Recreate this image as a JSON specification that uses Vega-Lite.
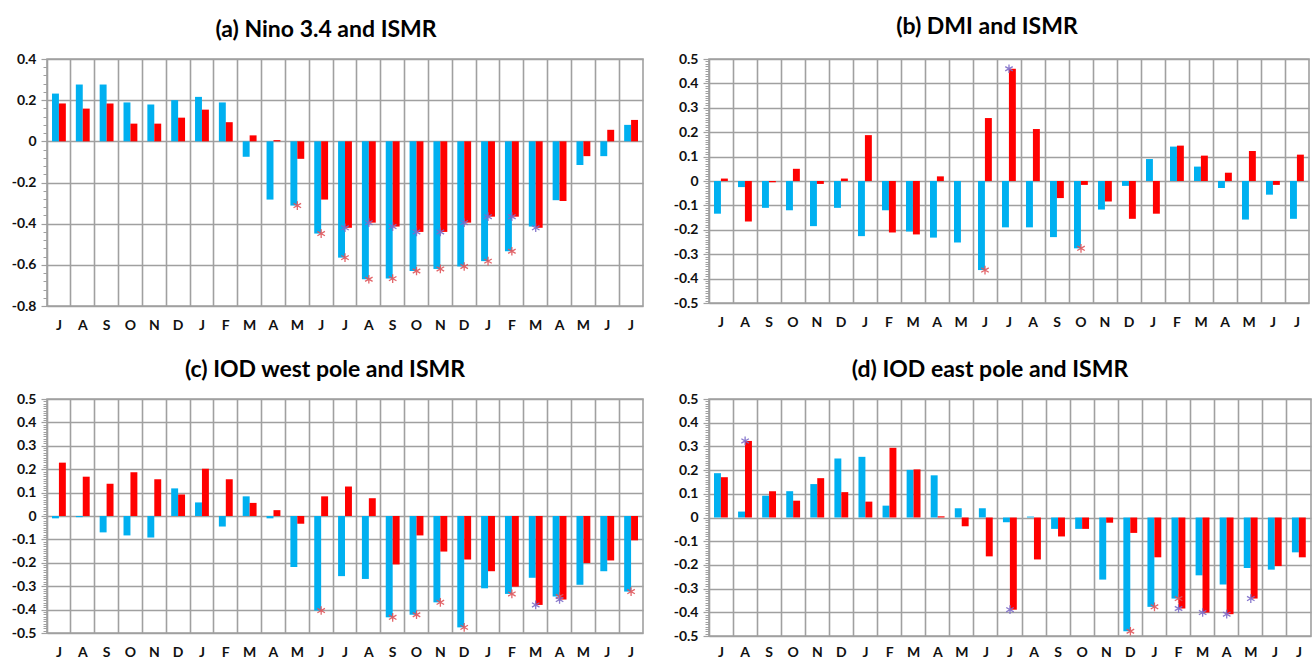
{
  "$schema": "https://vega.github.io/schema/vega-lite/v6.json",
  "padding": {"left": 10, "top": 15, "right": 4, "bottom": 0},
  "spacing": 25,
  "datasets": {
    "a": [
      {"i":1,"s":"b","v":0.232},{"i":1,"s":"r","v":0.184},
      {"i":2,"s":"b","v":0.276},{"i":2,"s":"r","v":0.159},
      {"i":3,"s":"b","v":0.276},{"i":3,"s":"r","v":0.184},
      {"i":4,"s":"b","v":0.189},{"i":4,"s":"r","v":0.086},
      {"i":5,"s":"b","v":0.179},{"i":5,"s":"r","v":0.086},
      {"i":6,"s":"b","v":0.2},{"i":6,"s":"r","v":0.115},
      {"i":7,"s":"b","v":0.216},{"i":7,"s":"r","v":0.154},
      {"i":8,"s":"b","v":0.189},{"i":8,"s":"r","v":0.093},
      {"i":9,"s":"b","v":-0.075},{"i":9,"s":"r","v":0.029},
      {"i":10,"s":"b","v":-0.283},{"i":10,"s":"r","v":0.006},
      {"i":11,"s":"b","v":-0.312,"g":1},{"i":11,"s":"r","v":-0.085},
      {"i":12,"s":"b","v":-0.448,"g":1},{"i":12,"s":"r","v":-0.283},
      {"i":13,"s":"b","v":-0.565,"g":1},{"i":13,"s":"r","v":-0.42,"g":1},
      {"i":14,"s":"b","v":-0.67,"g":1},{"i":14,"s":"r","v":-0.395,"g":1},
      {"i":15,"s":"b","v":-0.667,"g":1},{"i":15,"s":"r","v":-0.414,"g":1},
      {"i":16,"s":"b","v":-0.63,"g":1},{"i":16,"s":"r","v":-0.44,"g":1},
      {"i":17,"s":"b","v":-0.62,"g":1},{"i":17,"s":"r","v":-0.44,"g":1},
      {"i":18,"s":"b","v":-0.608,"g":1},{"i":18,"s":"r","v":-0.395,"g":1},
      {"i":19,"s":"b","v":-0.582,"g":1},{"i":19,"s":"r","v":-0.366,"g":1},
      {"i":20,"s":"b","v":-0.534,"g":1},{"i":20,"s":"r","v":-0.366,"g":1},
      {"i":21,"s":"b","v":-0.414},{"i":21,"s":"r","v":-0.42,"g":1},
      {"i":22,"s":"b","v":-0.286},{"i":22,"s":"r","v":-0.29},
      {"i":23,"s":"b","v":-0.115},{"i":23,"s":"r","v":-0.072},
      {"i":24,"s":"b","v":-0.072},{"i":24,"s":"r","v":0.056},
      {"i":25,"s":"b","v":0.08},{"i":25,"s":"r","v":0.104}
    ],
    "b": [
      {"i":1,"s":"b","v":-0.134},{"i":1,"s":"r","v":0.01},
      {"i":2,"s":"b","v":-0.025},{"i":2,"s":"r","v":-0.166},
      {"i":3,"s":"b","v":-0.11},{"i":3,"s":"r","v":-0.005},
      {"i":4,"s":"b","v":-0.12},{"i":4,"s":"r","v":0.05},
      {"i":5,"s":"b","v":-0.185},{"i":5,"s":"r","v":-0.012},
      {"i":6,"s":"b","v":-0.11},{"i":6,"s":"r","v":0.01},
      {"i":7,"s":"b","v":-0.226},{"i":7,"s":"r","v":0.188},
      {"i":8,"s":"b","v":-0.12},{"i":8,"s":"r","v":-0.211},
      {"i":9,"s":"b","v":-0.207},{"i":9,"s":"r","v":-0.219},
      {"i":10,"s":"b","v":-0.232},{"i":10,"s":"r","v":0.019},
      {"i":11,"s":"b","v":-0.252},{"i":11,"s":"r","v":0},
      {"i":12,"s":"b","v":-0.365,"g":1},{"i":12,"s":"r","v":0.258},
      {"i":13,"s":"b","v":-0.19},{"i":13,"s":"r","v":0.46,"g":1},
      {"i":14,"s":"b","v":-0.19},{"i":14,"s":"r","v":0.213},
      {"i":15,"s":"b","v":-0.23},{"i":15,"s":"r","v":-0.07},
      {"i":16,"s":"b","v":-0.276,"g":1},{"i":16,"s":"r","v":-0.016},
      {"i":17,"s":"b","v":-0.117},{"i":17,"s":"r","v":-0.084},
      {"i":18,"s":"b","v":-0.02},{"i":18,"s":"r","v":-0.155},
      {"i":19,"s":"b","v":0.09},{"i":19,"s":"r","v":-0.134},
      {"i":20,"s":"b","v":0.141},{"i":20,"s":"r","v":0.145},
      {"i":21,"s":"b","v":0.059},{"i":21,"s":"r","v":0.104},
      {"i":22,"s":"b","v":-0.029},{"i":22,"s":"r","v":0.034},
      {"i":23,"s":"b","v":-0.158},{"i":23,"s":"r","v":0.123},
      {"i":24,"s":"b","v":-0.056},{"i":24,"s":"r","v":-0.016},
      {"i":25,"s":"b","v":-0.155},{"i":25,"s":"r","v":0.108}
    ],
    "c": [
      {"i":1,"s":"b","v":-0.01},{"i":1,"s":"r","v":0.228},
      {"i":2,"s":"b","v":-0.005},{"i":2,"s":"r","v":0.168},
      {"i":3,"s":"b","v":-0.07},{"i":3,"s":"r","v":0.138},
      {"i":4,"s":"b","v":-0.083},{"i":4,"s":"r","v":0.187},
      {"i":5,"s":"b","v":-0.092},{"i":5,"s":"r","v":0.157},
      {"i":6,"s":"b","v":0.118},{"i":6,"s":"r","v":0.092},
      {"i":7,"s":"b","v":0.058},{"i":7,"s":"r","v":0.202},
      {"i":8,"s":"b","v":-0.045},{"i":8,"s":"r","v":0.157},
      {"i":9,"s":"b","v":0.084},{"i":9,"s":"r","v":0.056},
      {"i":10,"s":"b","v":-0.01},{"i":10,"s":"r","v":0.025},
      {"i":11,"s":"b","v":-0.218},{"i":11,"s":"r","v":-0.033},
      {"i":12,"s":"b","v":-0.404,"g":1},{"i":12,"s":"r","v":0.084},
      {"i":13,"s":"b","v":-0.257},{"i":13,"s":"r","v":0.126},
      {"i":14,"s":"b","v":-0.269},{"i":14,"s":"r","v":0.076},
      {"i":15,"s":"b","v":-0.433,"g":1},{"i":15,"s":"r","v":-0.207},
      {"i":16,"s":"b","v":-0.422,"g":1},{"i":16,"s":"r","v":-0.083},
      {"i":17,"s":"b","v":-0.369,"g":1},{"i":17,"s":"r","v":-0.152},
      {"i":18,"s":"b","v":-0.476,"g":1},{"i":18,"s":"r","v":-0.186},
      {"i":19,"s":"b","v":-0.309},{"i":19,"s":"r","v":-0.236},
      {"i":20,"s":"b","v":-0.333,"g":1},{"i":20,"s":"r","v":-0.302},
      {"i":21,"s":"b","v":-0.264},{"i":21,"s":"r","v":-0.38,"g":1},
      {"i":22,"s":"b","v":-0.344,"g":1},{"i":22,"s":"r","v":-0.357,"g":1},
      {"i":23,"s":"b","v":-0.294},{"i":23,"s":"r","v":-0.201},
      {"i":24,"s":"b","v":-0.236},{"i":24,"s":"r","v":-0.19},
      {"i":25,"s":"b","v":-0.323,"g":1},{"i":25,"s":"r","v":-0.104}
    ],
    "d": [
      {"i":1,"s":"b","v":0.187},{"i":1,"s":"r","v":0.17},
      {"i":2,"s":"b","v":0.025},{"i":2,"s":"r","v":0.323,"g":1},
      {"i":3,"s":"b","v":0.092},{"i":3,"s":"r","v":0.111},
      {"i":4,"s":"b","v":0.111},{"i":4,"s":"r","v":0.071},
      {"i":5,"s":"b","v":0.141},{"i":5,"s":"r","v":0.166},
      {"i":6,"s":"b","v":0.249},{"i":6,"s":"r","v":0.107},
      {"i":7,"s":"b","v":0.256},{"i":7,"s":"r","v":0.067},
      {"i":8,"s":"b","v":0.05},{"i":8,"s":"r","v":0.294},
      {"i":9,"s":"b","v":0.201},{"i":9,"s":"r","v":0.203},
      {"i":10,"s":"b","v":0.178},{"i":10,"s":"r","v":0.005},
      {"i":11,"s":"b","v":0.039},{"i":11,"s":"r","v":-0.037},
      {"i":12,"s":"b","v":0.039},{"i":12,"s":"r","v":-0.164},
      {"i":13,"s":"b","v":-0.02},{"i":13,"s":"r","v":-0.389,"g":1},
      {"i":14,"s":"b","v":0.004},{"i":14,"s":"r","v":-0.177},
      {"i":15,"s":"b","v":-0.048},{"i":15,"s":"r","v":-0.08},
      {"i":16,"s":"b","v":-0.048},{"i":16,"s":"r","v":-0.048},
      {"i":17,"s":"b","v":-0.262},{"i":17,"s":"r","v":-0.022},
      {"i":18,"s":"b","v":-0.48,"g":1},{"i":18,"s":"r","v":-0.065},
      {"i":19,"s":"b","v":-0.377,"g":1},{"i":19,"s":"r","v":-0.168},
      {"i":20,"s":"b","v":-0.342,"g":1},{"i":20,"s":"r","v":-0.384,"g":1},
      {"i":21,"s":"b","v":-0.244},{"i":21,"s":"r","v":-0.401,"g":1},
      {"i":22,"s":"b","v":-0.283},{"i":22,"s":"r","v":-0.408,"g":1},
      {"i":23,"s":"b","v":-0.213},{"i":23,"s":"r","v":-0.342,"g":1},
      {"i":24,"s":"b","v":-0.22},{"i":24,"s":"r","v":-0.205},
      {"i":25,"s":"b","v":-0.147},{"i":25,"s":"r","v":-0.168}
    ]
  },
  "vconcat": [
    {
      "spacing": 28,
      "hconcat": [
        {
          "width": 596, "height": 247,
          "title": {"text": "(a) Nino 3.4 and ISMR", "dx": -19},
          "data": {"name": "a"},
          "resolve": {"axis": {"y": "independent"}},
          "layer": [
            {
              "mark": {"type": "bar"},
              "encoding": {
                "x": {"field": "i", "type": "ordinal", "scale": {"paddingInner": 0, "paddingOuter": 0},
                  "axis": {"title": null, "grid": true, "bandPosition": 0, "ticks": false, "labelAngle": 0, "labelPadding": 12,
                    "labelExpr": "['J','A','S','O','N','D','J','F','M','A','M','J','J','A','S','O','N','D','J','F','M','A','M','J','J'][datum.value-1]"}},
                "xOffset": {"field": "s", "scale": {"paddingOuter": 0.72, "paddingInner": 0}},
                "y": {"field": "v", "type": "quantitative", "scale": {"domain": [-0.8, 0.4], "nice": false, "zero": false},
                  "axis": {"title": null, "orient": "left", "values": [-0.8, -0.6, -0.4, -0.2, 0, 0.2, 0.4], "labelExpr": "toString(round(datum.value*10)/10)"}},
                "color": {"field": "s", "scale": {"domain": ["b", "r"], "range": ["#00b0f0", "#ff0000"]}, "legend": null}
              }
            },
            {
              "transform": [{"filter": "datum.g == 1"}],
              "mark": {"type": "point", "shape": "M0,-1L0,1M-0.87,-0.5L0.87,0.5M-0.87,0.5L0.87,-0.5", "filled": false, "strokeWidth": 1.3, "size": 75, "opacity": 0.9},
              "encoding": {
                "x": {"field": "i", "type": "ordinal"},
                "y": {"field": "v", "type": "quantitative",
                  "axis": {"title": null, "orient": "left", "grid": false, "labels": false, "tickSize": 4, "tickWidth": 1,
                    "values": [-0.76,-0.72,-0.68,-0.64,-0.56,-0.52,-0.48,-0.44,-0.36,-0.32,-0.28,-0.24,-0.16,-0.12,-0.08,-0.04,0.04,0.08,0.12,0.16,0.24,0.28,0.32,0.36]}},
                "stroke": {"field": "s", "scale": {"domain": ["b", "r"], "range": ["#e0555a", "#7d6cc9"]}, "legend": null}
              }
            }
          ]
        },
        {
          "width": 600, "height": 244,
          "title": {"text": "(b) DMI and ISMR", "offset": 13, "dx": -22},
          "data": {"name": "b"},
          "resolve": {"axis": {"y": "independent"}},
          "layer": [
            {
              "mark": {"type": "bar"},
              "encoding": {
                "x": {"field": "i", "type": "ordinal", "scale": {"paddingInner": 0, "paddingOuter": 0},
                  "axis": {"title": null, "grid": true, "bandPosition": 0, "ticks": false, "labelAngle": 0, "labelPadding": 12,
                    "labelExpr": "['J','A','S','O','N','D','J','F','M','A','M','J','J','A','S','O','N','D','J','F','M','A','M','J','J'][datum.value-1]"}},
                "xOffset": {"field": "s", "scale": {"paddingOuter": 0.72, "paddingInner": 0}},
                "y": {"field": "v", "type": "quantitative", "scale": {"domain": [-0.5, 0.5], "nice": false, "zero": false},
                  "axis": {"title": null, "orient": "left", "values": [-0.5, -0.4, -0.3, -0.2, -0.1, 0, 0.1, 0.2, 0.3, 0.4, 0.5], "labelExpr": "toString(round(datum.value*10)/10)"}},
                "color": {"field": "s", "scale": {"domain": ["b", "r"], "range": ["#00b0f0", "#ff0000"]}, "legend": null}
              }
            },
            {
              "transform": [{"filter": "datum.g == 1"}],
              "mark": {"type": "point", "shape": "M0,-1L0,1M-0.87,-0.5L0.87,0.5M-0.87,0.5L0.87,-0.5", "filled": false, "strokeWidth": 1.3, "size": 75, "opacity": 0.9},
              "encoding": {
                "x": {"field": "i", "type": "ordinal"},
                "y": {"field": "v", "type": "quantitative",
                  "axis": {"title": null, "orient": "left", "grid": false, "labels": false, "tickSize": 4, "tickWidth": 1, "tickCount": 100}},
                "stroke": {"field": "s", "scale": {"domain": ["b", "r"], "range": ["#e0555a", "#7d6cc9"]}, "legend": null}
              }
            }
          ]
        }
      ]
    },
    {
      "spacing": 28,
      "hconcat": [
        {
          "width": 596, "height": 234,
          "title": {"text": "(c) IOD west pole and ISMR", "dx": -20},
          "data": {"name": "c"},
          "resolve": {"axis": {"y": "independent"}},
          "layer": [
            {
              "mark": {"type": "bar"},
              "encoding": {
                "x": {"field": "i", "type": "ordinal", "scale": {"paddingInner": 0, "paddingOuter": 0},
                  "axis": {"title": null, "grid": true, "bandPosition": 0, "ticks": false, "labelAngle": 0, "labelPadding": 12,
                    "labelExpr": "['J','A','S','O','N','D','J','F','M','A','M','J','J','A','S','O','N','D','J','F','M','A','M','J','J'][datum.value-1]"}},
                "xOffset": {"field": "s", "scale": {"paddingOuter": 0.72, "paddingInner": 0}},
                "y": {"field": "v", "type": "quantitative", "scale": {"domain": [-0.5, 0.5], "nice": false, "zero": false},
                  "axis": {"title": null, "orient": "left", "values": [-0.5, -0.4, -0.3, -0.2, -0.1, 0, 0.1, 0.2, 0.3, 0.4, 0.5], "labelExpr": "toString(round(datum.value*10)/10)"}},
                "color": {"field": "s", "scale": {"domain": ["b", "r"], "range": ["#00b0f0", "#ff0000"]}, "legend": null}
              }
            },
            {
              "transform": [{"filter": "datum.g == 1"}],
              "mark": {"type": "point", "shape": "M0,-1L0,1M-0.87,-0.5L0.87,0.5M-0.87,0.5L0.87,-0.5", "filled": false, "strokeWidth": 1.3, "size": 75, "opacity": 0.9},
              "encoding": {
                "x": {"field": "i", "type": "ordinal"},
                "y": {"field": "v", "type": "quantitative",
                  "axis": {"title": null, "orient": "left", "grid": false, "labels": false, "tickSize": 4, "tickWidth": 1, "tickCount": 100}},
                "stroke": {"field": "s", "scale": {"domain": ["b", "r"], "range": ["#e0555a", "#7d6cc9"]}, "legend": null}
              }
            }
          ]
        },
        {
          "width": 602, "height": 237,
          "title": {"text": "(d) IOD east pole and ISMR", "dx": -20},
          "data": {"name": "d"},
          "resolve": {"axis": {"y": "independent"}},
          "layer": [
            {
              "mark": {"type": "bar"},
              "encoding": {
                "x": {"field": "i", "type": "ordinal", "scale": {"paddingInner": 0, "paddingOuter": 0},
                  "axis": {"title": null, "grid": true, "bandPosition": 0, "ticks": false, "labelAngle": 0, "labelPadding": 9,
                    "labelExpr": "['J','A','S','O','N','D','J','F','M','A','M','J','J','A','S','O','N','D','J','F','M','A','M','J','J'][datum.value-1]"}},
                "xOffset": {"field": "s", "scale": {"paddingOuter": 0.72, "paddingInner": 0}},
                "y": {"field": "v", "type": "quantitative", "scale": {"domain": [-0.5, 0.5], "nice": false, "zero": false},
                  "axis": {"title": null, "orient": "left", "values": [-0.5, -0.4, -0.3, -0.2, -0.1, 0, 0.1, 0.2, 0.3, 0.4, 0.5], "labelExpr": "toString(round(datum.value*10)/10)"}},
                "color": {"field": "s", "scale": {"domain": ["b", "r"], "range": ["#00b0f0", "#ff0000"]}, "legend": null}
              }
            },
            {
              "transform": [{"filter": "datum.g == 1"}],
              "mark": {"type": "point", "shape": "M0,-1L0,1M-0.87,-0.5L0.87,0.5M-0.87,0.5L0.87,-0.5", "filled": false, "strokeWidth": 1.3, "size": 75, "opacity": 0.9},
              "encoding": {
                "x": {"field": "i", "type": "ordinal"},
                "y": {"field": "v", "type": "quantitative",
                  "axis": {"title": null, "orient": "left", "grid": false, "labels": false, "tickSize": 4, "tickWidth": 1, "tickCount": 100}},
                "stroke": {"field": "s", "scale": {"domain": ["b", "r"], "range": ["#e0555a", "#7d6cc9"]}, "legend": null}
              }
            }
          ]
        }
      ]
    }
  ],
  "config": {
    "font": "Lato",
    "view": {"stroke": "#a0a0a0", "strokeWidth": 1.6},
    "axis": {
      "labelFont": "Lato", "labelFontWeight": "bold", "labelFontSize": 14, "labelColor": "#111111", "labelOverlap": false,
      "gridColor": "#a0a0a0", "gridWidth": 1.6, "gridOpacity": 1,
      "domain": false, "tickColor": "#a0a0a0", "tickSize": 6, "tickWidth": 1.2, "labelPadding": 5
    },
    "title": {"font": "Lato", "fontSize": 23, "fontWeight": "bold", "color": "#000000", "anchor": "middle", "offset": 10}
  }
}
